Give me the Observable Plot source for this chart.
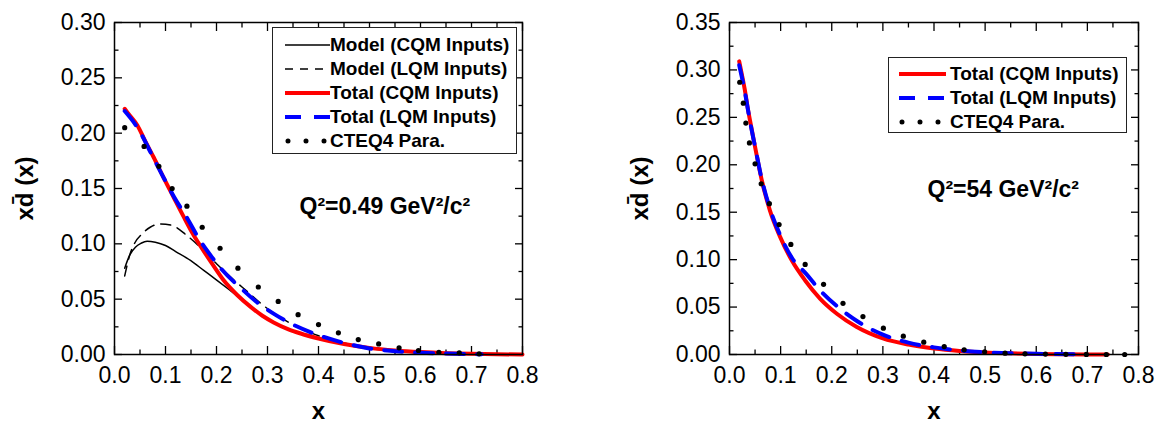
<!DOCTYPE html>
<html><head><meta charset="utf-8">
<script src="https://cdn.jsdelivr.net/npm/d3@7"></script>
<script src="https://cdn.jsdelivr.net/npm/@observablehq/plot@0.6"></script>
<style>
body{margin:0;background:#fff;}
#wrap{position:relative;width:1160px;height:426px;overflow:hidden;font-family:"Liberation Sans",Arial,sans-serif;}
.panel{position:absolute;top:0;}
.legend{position:absolute;border:1.3px solid #222;background:#fff;box-sizing:border-box;font-weight:bold;font-size:19px;color:#000;}
.legend .row{position:absolute;left:0;height:24px;display:flex;align-items:center;white-space:nowrap;}
.legend svg{display:block;}
</style></head><body><div id="wrap"></div><script>
// ---------- data: left panel (Q^2 = 0.49 GeV^2/c^2) ----------
const L_modelCQM_x = [0.02,0.03,0.041,0.052,0.064,0.08,0.1,0.12,0.149,0.175,0.201,0.225,0.247,0.265,0.28,0.29,0.312,0.34,0.365,0.4,0.45,0.5,0.55,0.6,0.65,0.7,0.75,0.8];
const L_modelCQM_y = [0.078,0.09,0.097,0.1005,0.1024,0.1015,0.0985,0.093,0.085,0.076,0.067,0.0585,0.0505,0.0438,0.0392,0.035,0.029,0.023,0.019,0.0145,0.0095,0.006,0.0037,0.0022,0.0012,0.0006,0.0002,0.0];
const L_modelLQM_x = [0.02,0.03,0.04,0.054,0.07,0.09,0.113,0.142,0.17,0.2,0.23,0.26,0.29,0.32,0.35,0.4,0.45,0.5,0.55,0.6,0.65,0.7,0.75,0.8];
const L_modelLQM_y = [0.071,0.09,0.101,0.109,0.115,0.118,0.1166,0.1075,0.096,0.082,0.069,0.057,0.045,0.035,0.027,0.017,0.0105,0.0055,0.003,0.0016,0.0008,0.0003,0.0001,0.0];
const L_totalCQM_x = [0.02,0.03,0.045,0.06,0.077,0.095,0.116,0.135,0.155,0.17,0.19,0.214,0.24,0.267,0.29,0.312,0.34,0.365,0.4,0.45,0.5,0.55,0.6,0.65,0.7,0.75,0.8];
const L_totalCQM_y = [0.222,0.216,0.207,0.193,0.178,0.161,0.142,0.125,0.108,0.097,0.083,0.067,0.054,0.043,0.035,0.029,0.023,0.019,0.0145,0.0095,0.006,0.0037,0.0022,0.0012,0.0006,0.0002,0.0];
const L_totalLQM_x = [0.02,0.045,0.077,0.095,0.116,0.144,0.165,0.186,0.21,0.25,0.28,0.315,0.35,0.4,0.45,0.5,0.55,0.6,0.65,0.72];
const L_totalLQM_y = [0.22,0.205,0.177,0.161,0.143,0.122,0.105,0.091,0.077,0.059,0.047,0.036,0.027,0.0175,0.0105,0.0055,0.003,0.0016,0.0008,0.0002];
const L_cteq_x = [0.02,0.058,0.087,0.113,0.142,0.172,0.207,0.242,0.282,0.321,0.36,0.40,0.439,0.478,0.518,0.558,0.596,0.636,0.676,0.715];
const L_cteq_y = [0.205,0.188,0.170,0.150,0.134,0.115,0.096,0.078,0.061,0.048,0.036,0.027,0.0196,0.0135,0.0096,0.006,0.0036,0.002,0.0015,0.0006];

// ---------- data: right panel (Q^2 = 54 GeV^2/c^2) ----------
const R_totalCQM_x = [0.019,0.025,0.03,0.035,0.04,0.05,0.063,0.079,0.099,0.122,0.148,0.177,0.21,0.249,0.3,0.35,0.4,0.45,0.5,0.55,0.6,0.65,0.7,0.74];
const R_totalCQM_y = [0.309,0.293,0.279,0.262,0.247,0.219,0.184,0.152,0.124,0.099,0.078,0.059,0.043,0.029,0.017,0.0105,0.0063,0.0037,0.0021,0.0012,0.0006,0.0003,0.0001,0.0];
const R_totalLQM_x = [0.019,0.03,0.04,0.05,0.063,0.079,0.099,0.122,0.15,0.18,0.21,0.25,0.3,0.35,0.4,0.45,0.5,0.55,0.6,0.68];
const R_totalLQM_y = [0.305,0.277,0.246,0.219,0.185,0.154,0.126,0.102,0.085,0.066,0.051,0.035,0.021,0.0125,0.0075,0.0043,0.0024,0.0013,0.0007,0.0002];
const R_cteq_x = [0.02,0.027,0.032,0.039,0.05,0.062,0.078,0.097,0.12,0.148,0.184,0.222,0.261,0.301,0.34,0.38,0.42,0.459,0.499,0.539,0.578,0.618,0.658,0.698,0.737,0.773];
const R_cteq_y = [0.287,0.265,0.244,0.223,0.201,0.18,0.159,0.137,0.116,0.095,0.074,0.054,0.04,0.0277,0.0193,0.013,0.0084,0.0049,0.0028,0.0014,0.0007,0.0004,0.0002,0.0001,0.0,0.0];

// ---------- ticks & labels ----------
const xMajor = [0,0.1,0.2,0.3,0.4,0.5,0.6,0.7,0.8];
const xMinor = [0.05,0.15,0.25,0.35,0.45,0.55,0.65,0.75];
const L_yMajor = [0,0.05,0.10,0.15,0.20,0.25,0.30];
const L_yMinor = [0.025,0.075,0.125,0.175,0.225,0.275];
const R_yMajor = [0,0.05,0.10,0.15,0.20,0.25,0.30,0.35];
const R_yMinor = [0.025,0.075,0.125,0.175,0.225,0.275,0.325];
const xLabel = "x";
const yLabel = "xd\u0304 (x)";
const L_annot = "Q\u00B2=0.49 GeV\u00B2/c\u00B2";
const R_annot = "Q\u00B2=54 GeV\u00B2/c\u00B2";
const L_legend = ["Model (CQM Inputs)","Model (LQM Inputs)","Total (CQM Inputs)","Total (LQM Inputs)","CTEQ4 Para."];
const R_legend = ["Total (CQM Inputs)","Total (LQM Inputs)","CTEQ4 Para."];

const pts = (xs, ys) => xs.map((x, i) => ({x, y: ys[i]}));

const STY = {
  modelCQM: {stroke:"#000", strokeWidth:1.5},
  modelLQM: {stroke:"#000", strokeWidth:1.5, strokeDasharray:"10,7"},
  totalCQM: {stroke:"#ff0000", strokeWidth:4},
  totalLQM: {stroke:"#0000ff", strokeWidth:4, strokeDasharray:"18,13"},
};

function panel(o) {
  const fmtY = d3.format(".2f"), fmtX = d3.format(".1f"), blank = () => "";
  const marks = [
    Plot.axisY(o.yMajor, {anchor:"left", tickSize:0, tickPadding:9, tickFormat:fmtY, label:null, fontSize:23}),
    Plot.axisY(o.yMajor, {anchor:"left", tickSize:-8, tickFormat:blank, label:null, strokeWidth:1.3}),
    Plot.axisY(o.yMinor, {anchor:"left", tickSize:-4.5, tickFormat:blank, label:null, strokeWidth:1.3}),
    Plot.axisY(o.yMajor, {anchor:"right", tickSize:-8, tickFormat:blank, label:null, strokeWidth:1.3}),
    Plot.axisY(o.yMinor, {anchor:"right", tickSize:-4.5, tickFormat:blank, label:null, strokeWidth:1.3}),
    Plot.axisX(xMajor, {anchor:"bottom", tickSize:0, tickPadding:12, tickFormat:fmtX, label:null, fontSize:23}),
    Plot.axisX(xMajor, {anchor:"bottom", tickSize:-8, tickFormat:blank, label:null, strokeWidth:1.3}),
    Plot.axisX(xMinor, {anchor:"bottom", tickSize:-4.5, tickFormat:blank, label:null, strokeWidth:1.3}),
    Plot.axisX(xMajor, {anchor:"top", tickSize:-8, tickFormat:blank, label:null, strokeWidth:1.3}),
    Plot.axisX(xMinor, {anchor:"top", tickSize:-4.5, tickFormat:blank, label:null, strokeWidth:1.3}),
  ];
  for (const s of o.lines) {
    marks.push(Plot.line(s.data, {x:"x", y:"y", curve:"monotone-x", ...STY[s.key]}));
  }
  marks.push(Plot.dot(o.dots, {x:"x", y:"y", r:2.6, fill:"#000", stroke:null}));
  marks.push(Plot.frame({stroke:"#000", strokeWidth:1.5}));
  marks.push(Plot.text([o.annot], {text:d=>d, frameAnchor:"top-left", dx:o.annotDx, dy:o.annotDy, textAnchor:"start", lineAnchor:"middle", fontWeight:"bold", fontSize:23}));
  marks.push(Plot.text([yLabel], {text:d=>d, frameAnchor:"left", dx:-89, rotate:-90, textAnchor:"middle", lineAnchor:"middle", fontWeight:"bold", fontSize:24}));
  marks.push(Plot.text([xLabel], {text:d=>d, frameAnchor:"bottom", dy:57, textAnchor:"middle", lineAnchor:"middle", fontWeight:"bold", fontSize:24}));
  const svg = Plot.plot({
    width:o.width, height:426,
    marginLeft:o.marginLeft, marginRight:o.marginRight, marginTop:22, marginBottom:72,
    x:{domain:[0,0.8], axis:null, label:null},
    y:{domain:o.yDomain, axis:null, label:null},
    style:{fontFamily:'"Liberation Sans", Arial, sans-serif', fontSize:"23px", color:"#000", background:"transparent", overflow:"visible"},
    marks
  });
  svg.classList.add("panel");
  svg.style.left = o.left + "px";
  return svg;
}

function legend(o) {
  const box = document.createElement("div");
  box.className = "legend";
  Object.assign(box.style, {left:o.left+"px", top:o.top+"px", width:o.width+"px", height:o.height+"px"});
  o.items.forEach((label, i) => {
    const row = document.createElement("div");
    row.className = "row";
    row.style.top = (o.firstRow + i * 24) + "px";
    row.style.left = o.sampleLeft + "px";
    const key = o.keys[i];
    const ns = "http://www.w3.org/2000/svg";
    const svg = document.createElementNS(ns, "svg");
    svg.setAttribute("width", o.sampleW); svg.setAttribute("height", 12);
    const ln = document.createElementNS(ns, "line");
    ln.setAttribute("x1", 0); ln.setAttribute("x2", o.sampleW); ln.setAttribute("y1", 6); ln.setAttribute("y2", 6);
    if (key === "cteq") {
      ln.setAttribute("x1", 3);
      ln.setAttribute("stroke", "#000"); ln.setAttribute("stroke-width", 5);
      ln.setAttribute("stroke-linecap", "round"); ln.setAttribute("stroke-dasharray", "0,18");
    } else {
      const s = STY[key];
      ln.setAttribute("stroke", s.stroke); ln.setAttribute("stroke-width", s.strokeWidth);
      if (key === "totalLQM") ln.setAttribute("stroke-dasharray", "16,13");
      else if (s.strokeDasharray) ln.setAttribute("stroke-dasharray", "8,7");
    }
    svg.appendChild(ln);
    row.appendChild(svg);
    const t = document.createElement("span");
    t.textContent = label;
    t.style.marginLeft = o.gap + "px";
    row.appendChild(t);
    box.appendChild(row);
  });
  return box;
}

const wrap = document.getElementById("wrap");
wrap.appendChild(panel({
  left:0, width:560, marginLeft:114, marginRight:38, yDomain:[0,0.30],
  yMajor:L_yMajor, yMinor:L_yMinor,
  lines:[
    {key:"modelCQM", data:pts(L_modelCQM_x, L_modelCQM_y)},
    {key:"modelLQM", data:pts(L_modelLQM_x, L_modelLQM_y)},
    {key:"totalCQM", data:pts(L_totalCQM_x, L_totalCQM_y)},
    {key:"totalLQM", data:pts(L_totalLQM_x, L_totalLQM_y)},
  ],
  dots:pts(L_cteq_x, L_cteq_y),
  annot:L_annot, annotDx:185, annotDy:184
}));
wrap.appendChild(panel({
  left:580, width:580, marginLeft:149, marginRight:22, yDomain:[0,0.35],
  yMajor:R_yMajor, yMinor:R_yMinor,
  lines:[
    {key:"totalCQM", data:pts(R_totalCQM_x, R_totalCQM_y)},
    {key:"totalLQM", data:pts(R_totalLQM_x, R_totalLQM_y)},
  ],
  dots:pts(R_cteq_x, R_cteq_y),
  annot:R_annot, annotDx:198, annotDy:167
}));
wrap.appendChild(legend({left:272, top:27, width:245, height:127, firstRow:5, sampleLeft:12, sampleW:45, gap:0,
  items:L_legend, keys:["modelCQM","modelLQM","totalCQM","totalLQM","cteq"]}));
wrap.appendChild(legend({left:888, top:57, width:239, height:76, firstRow:4, sampleLeft:10, sampleW:47, gap:4,
  items:R_legend, keys:["totalCQM","totalLQM","cteq"]}));
</script></body></html>
